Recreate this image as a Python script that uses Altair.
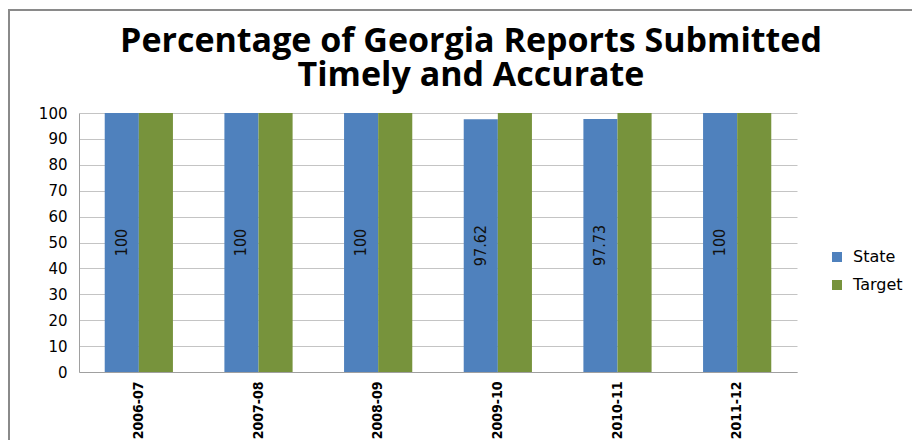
import altair as alt
import pandas as pd

years = ["2006-07", "2007-08", "2008-09", "2009-10", "2010-11", "2011-12"]
state = [100, 100, 100, 97.62, 97.73, 100]
target = [100, 100, 100, 100, 100, 100]
series = ["State", "Target"]
colors = ["#4F81BD", "#77933C"]
title_lines = ["Percentage of Georgia Reports Submitted", "Timely and Accurate"]

rows = []
for y, s, t in zip(years, state, target):
    rows.append({"year": y, "series": "State", "value": s, "label": f"{s:g}"})
    rows.append({"year": y, "series": "Target", "value": t, "label": f"{t:g}"})
df = pd.DataFrame(rows)

W, H = 718, 259
PL, PT, PR, PB = 71, 105, 115, 68
NARROW = "DejaVu Sans Condensed, Roboto, sans-serif"

xaxis = alt.Axis(labelAngle=270, labelFont=NARROW,
                 labelFontWeight="bold", labelFontSize=14, labelColor="#000",
                 ticks=False, domainColor="#a0a0a0", labelPadding=9,
                 labelAlign="right", labelBaseline="middle")
yaxis = alt.Axis(values=list(range(0, 101, 10)), grid=True, gridColor="#c4c4c4",
                 ticks=False, domainColor="#a0a0a0", labelFont="DejaVu Sans",
                 labelFontSize=15, labelColor="#000", labelPadding=12,
                 labelOverlap=False)
x = alt.X("year:N", sort=years, title=None,
          scale=alt.Scale(paddingInner=0.43, paddingOuter=0.215), axis=xaxis)
yscale = alt.Scale(domain=[0, 100], nice=False)

base = alt.Chart(df)
bars = base.mark_bar().encode(
    x=x,
    y=alt.Y("value:Q", title=None, scale=yscale, axis=yaxis),
    xOffset=alt.XOffset("series:N", sort=series, scale=alt.Scale(paddingInner=0, paddingOuter=0)),
    color=alt.Color("series:N", sort=series, title=None,
                    scale=alt.Scale(domain=series, range=colors),
                    legend=alt.Legend(orient="none", legendX=750, legendY=136,
                                      symbolType="square", symbolSize=100,
                                      symbolStrokeWidth=0, labelFont="DejaVu Sans",
                                      labelFontSize=16, labelColor="#000",
                                      rowPadding=12, labelOffset=8)),
)
labels = base.transform_calculate(mid="datum.value / 2").transform_filter(
    alt.datum.series == "State"
).mark_text(
    angle=270, font=NARROW, fontSize=16, color="#111",
    baseline="middle", align="center"
).encode(
    x=alt.X("year:N", sort=years, title=None, axis=xaxis),
    xOffset=alt.XOffset("series:N", sort=series),
    y=alt.Y("mid:Q", title=None, scale=yscale, axis=yaxis),
    text="label:N",
)

one = pd.DataFrame({"a": [0]})
border_left = alt.Chart(one).mark_rule(color="#8a8a8a", strokeWidth=2).encode(
    x=alt.value(-PL + 1), y=alt.value(-PT + 2), y2=alt.value(H + PB + 10))
border_top = alt.Chart(one).mark_rule(color="#8a8a8a", strokeWidth=2).encode(
    x=alt.value(-PL), x2=alt.value(W + PR + 10), y=alt.value(-PT + 2))

title = alt.Chart(one).mark_text(font="Open Sans", fontSize=34, fontWeight="bold",
                                 color="#000", baseline="middle", align="center",
                                 lineHeight=34).encode(
    x=alt.value(392), y=alt.value(-71), text=alt.value(title_lines))

chart = alt.layer(bars, labels, border_left, border_top, title).properties(
    width=W, height=H,
    autosize=alt.AutoSizeParams(type="none"),
    padding={"left": PL, "top": PT, "right": PR, "bottom": PB},
).configure_view(stroke=None)

chart.save("out.html", embed_options={"renderer": "svg", "actions": False})
